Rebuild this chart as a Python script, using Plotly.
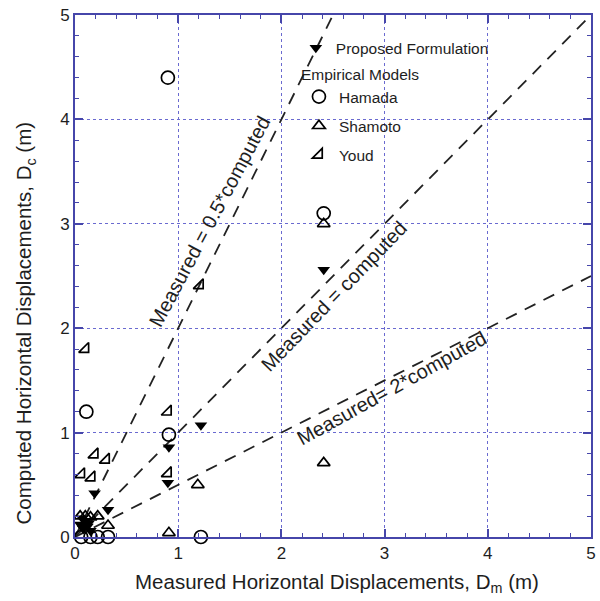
import plotly.graph_objects as go

# ---- data ----
proposed_x = [2.41, 1.22, 0.91, 0.90, 0.19, 0.32, 0.05, 0.08, 0.10, 0.12, 0.15, 0.07, 0.13]
proposed_y = [2.56, 1.07, 0.86, 0.52, 0.42, 0.26, 0.12, 0.08, 0.15, 0.10, 0.06, 0.18, 0.13]

hamada_x = [0.90, 2.41, 0.11, 0.91, 1.22, 0.06, 0.15, 0.22, 0.32]
hamada_y = [4.40, 3.10, 1.20, 0.98, 0.00, 0.00, 0.00, 0.00, 0.00]

shamoto_x = [2.41, 2.41, 1.19, 0.91, 0.32, 0.05, 0.10, 0.15, 0.22]
shamoto_y = [3.00, 0.71, 0.50, 0.04, 0.11, 0.20, 0.20, 0.19, 0.20]

youd_x = [1.21, 0.10, 0.90, 0.90, 0.19, 0.30, 0.06, 0.16]
youd_y = [2.41, 1.80, 1.20, 0.61, 0.79, 0.74, 0.60, 0.57]

# reference lines (measured vs computed ratios): endpoints
line_half_x = [0, 2.5]
line_half_y = [0, 5]
line_eq_x = [0, 5]
line_eq_y = [0, 5]
line_two_x = [0, 5]
line_two_y = [0, 2.5]

tick_vals = [0, 1, 2, 3, 4, 5]

FONT = "Liberation Sans, Arial, sans-serif"
AX = "#4646aa"
GRID = "#6a6ad0"
TXT = "#1e1e1e"

fig = go.Figure()

for lx, ly in [(line_half_x, line_half_y), (line_eq_x, line_eq_y), (line_two_x, line_two_y)]:
    fig.add_trace(go.Scatter(x=lx, y=ly, mode="lines", showlegend=False,
                             line=dict(color="#222", width=1.8, dash="12px,9px"),
                             hoverinfo="skip"))

fig.add_trace(go.Scatter(x=proposed_x, y=proposed_y, mode="markers", name="Proposed Formulation",
                         marker=dict(symbol="triangle-down", size=11, color="black"),
                         cliponaxis=False, legend="legend"))
fig.add_trace(go.Scatter(x=hamada_x, y=hamada_y, mode="markers", name="Hamada",
                         marker=dict(symbol="circle-open", size=13, color="black", line=dict(width=1.7)),
                         cliponaxis=False, legend="legend2", legendgroup="h"))
fig.add_trace(go.Scatter(x=shamoto_x, y=shamoto_y, mode="markers", name="Shamoto",
                         marker=dict(symbol="triangle-up-open", size=11, color="black", line=dict(width=1.7)),
                         cliponaxis=False, legend="legend2", legendgroup="s"))
fig.add_trace(go.Scatter(x=youd_x, y=youd_y, mode="markers", name="Youd",
                         marker=dict(symbol="triangle-se-open", size=11, color="black", line=dict(width=1.7)),
                         cliponaxis=False, legend="legend2", legendgroup="y"))

axis_common = dict(
    range=[0, 5], tickvals=tick_vals, ticks="inside", ticklen=8, tickwidth=1.5, tickcolor=AX,
    showline=True, linecolor=AX, linewidth=2, mirror="ticks",
    showgrid=True, gridcolor=GRID, gridwidth=1.2, griddash="dot", zeroline=False,
    minor=dict(dtick=0.2, ticks="inside", ticklen=4, tickwidth=1.2, tickcolor=AX, showgrid=False),
    tickfont=dict(family=FONT, size=17, color=TXT),
)

fig.update_layout(
    width=600, height=601,
    margin=dict(l=75, r=4, t=15, b=64),
    paper_bgcolor="white", plot_bgcolor="white",
    font=dict(family=FONT, color=TXT),
    xaxis=dict(**axis_common),
    yaxis=dict(**axis_common),
    legend=dict(x=0.428, y=0.969, xanchor="left", yanchor="top", bgcolor="rgba(0,0,0,0)",
                font=dict(family=FONT, size=15.5, color=TXT)),
    legend2=dict(x=0.434, y=0.914, xanchor="left", yanchor="top", bgcolor="rgba(0,0,0,0)",
                 font=dict(family=FONT, size=15.5, color=TXT), traceorder="grouped", tracegroupgap=6,
                 title=dict(text="Empirical Models", font=dict(family=FONT, size=15.5, color=TXT))),
    annotations=[
        dict(x=0.507, y=-0.088, xref="paper", yref="paper", xanchor="center", yanchor="middle",
             text="Measured Horizontal Displacements, D<sub>m</sub> (m)", showarrow=False,
             font=dict(family=FONT, size=20.5, color=TXT)),
        dict(x=-0.096, y=0.41, xref="paper", yref="paper", xanchor="center", yanchor="middle",
             text="Computed Horizontal Displacements, D<sub>c</sub> (m)", showarrow=False,
             textangle=-90, font=dict(family=FONT, size=20.5, color=TXT)),
        dict(x=1.30, y=3.02, xref="x", yref="y", text="Measured = 0.5*computed", showarrow=False,
             textangle=-62, font=dict(family=FONT, size=20, color=TXT)),
        dict(x=2.51, y=2.31, xref="x", yref="y", text="Measured = computed", showarrow=False,
             textangle=-46, font=dict(family=FONT, size=20, color=TXT)),
        dict(x=3.07, y=1.43, xref="x", yref="y", text="Measured= 2*computed", showarrow=False,
             textangle=-29, font=dict(family=FONT, size=20, color=TXT)),
    ],
)

fig.write_html("out.html")
